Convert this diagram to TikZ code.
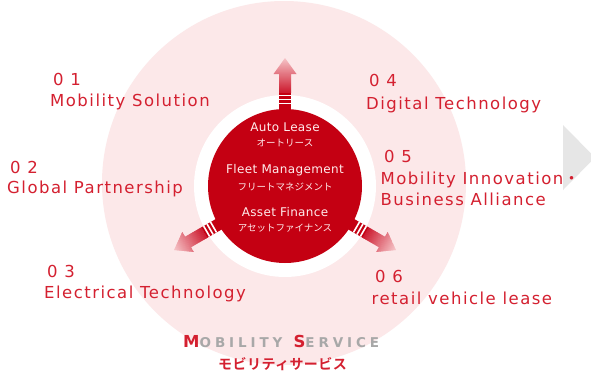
\documentclass[tikz,border=0pt]{standalone}
\usepackage{fontspec}
\setmainfont{DejaVu Sans}
\newfontfamily\lab[LetterSpace=9]{DejaVu Sans}
\newfontfamily\inen[LetterSpace=3]{DejaVu Sans}
\newfontfamily\mob[LetterSpace=29]{DejaVu Sans Bold}
\newfontfamily\cjk{Noto Sans CJK JP}
\newfontfamily\cjkb[LetterSpace=3]{Noto Sans CJK JP Bold}
\definecolor{tred}{RGB}{212,32,48}
\definecolor{cred}{RGB}{196,0,18}
\definecolor{bgpink}{RGB}{252,232,233}
\definecolor{ared}{RGB}{205,28,48}
\definecolor{apink}{RGB}{246,196,200}
\definecolor{ctext}{RGB}{255,236,236}
\definecolor{mgray}{RGB}{168,168,168}
\definecolor{trigray}{RGB}{230,230,230}
\begin{document}
\begin{tikzpicture}[x=1pt,y=-1pt,
  lbl/.style={anchor=base west,inner sep=0pt,text=tred,font=\lab\fontsize{16.5}{18}\selectfont},
  inl/.style={inner sep=0pt,text=ctext,font=\inen\fontsize{12}{13}\selectfont},
  inj/.style={inner sep=0pt,text=ctext,font=\cjk\fontsize{9.5}{10}\selectfont}]
\useasboundingbox (0,0) rectangle (591,375);
\fill[white] (0,0) rectangle (591,375);
% background disc
\fill[bgpink] (284,183) circle[radius=182];
% grey pointer on the right
\coordinate (t1) at (563,125);
\coordinate (t2) at (563,190);
\coordinate (t3) at (595,157.5);
\fill[trigray] (t1) -- (t2) -- (t3) -- cycle;
% central disc
\coordinate (c) at (285,186);
\fill[white] (c) circle[radius=91];
\fill[cred] (c) circle[radius=77];
% three arrows
\foreach \a in {90,210,-30}{
  \begin{scope}[shift={(c)},rotate=\a]
    \fill[cred] (76,-6) rectangle (93.6,6);
    \foreach \s in {82.5,86.5,90.5}
      \fill[white] (\s-0.8,-6) rectangle (\s+0.8,6);
    \begin{scope}
      \clip (93,-6) -- (112,-6) -- (112,-11.5) -- (128,0) -- (112,11.5) -- (112,6) -- (93,6) -- cycle;
      \foreach \i in {0,...,34}{
        \pgfmathtruncatemacro\pp{100*\i/34}
        \fill[apink!\pp!ared] (93+\i,-13) rectangle (94.5+\i,13);
      }
    \end{scope}
  \end{scope}
}
% inner texts
\node[inl] (al) at (285,127) {Auto Lease};
\node[inj] (alj) at (285,143) {オートリース};
\node[inl] (fm) at (285,170) {Fleet Management};
\node[inj] (fmj) at (285,187) {フリートマネジメント};
\node[inl] (af) at (285,212) {Asset Finance};
\node[inj] (afj) at (285,228) {アセットファイナンス};
% outer labels
\node[lbl] (n1) at (53,85) {0 1};
\node[lbl] (l1) at (50,106.5) {Mobility Solution};
\node[lbl] (n2) at (10,173) {0 2};
\node[lbl] (l2) at (7,193) {Global Partnership};
\node[lbl] (n3) at (47,277) {0 3};
\node[lbl] (l3) at (44,298) {Electrical Technology};
\node[lbl] (n4) at (369,86.5) {0 4};
\node[lbl] (l4) at (366,109) {Digital Technology};
\node[lbl] (n5) at (384,162.5) {0 5};
\node[lbl] (l5) at (380.5,184) {Mobility Innovation{\cjk ・}};
\node[lbl] (l5b) at (380.5,205) {Business Alliance};
\node[lbl] (n6) at (375,282.5) {0 6};
\node[lbl] (l6) at (371.5,304) {retail vehicle lease};
% title
\node[anchor=base west,inner sep=0pt] (ms) at (183,347)
  {\mob\color{tred}\fontsize{16.5}{18}\selectfont M\color{mgray}\fontsize{13.5}{14}\selectfont OBILITY\hspace{11pt}\color{tred}\fontsize{16.5}{18}\selectfont S\color{mgray}\fontsize{13.5}{14}\selectfont ERVICE};
\node[inner sep=0pt,text=tred,font=\cjkb\fontsize{14}{16}\selectfont] (msj) at (282.5,364.5) {モビリティサービス};
\end{tikzpicture}
\end{document}
